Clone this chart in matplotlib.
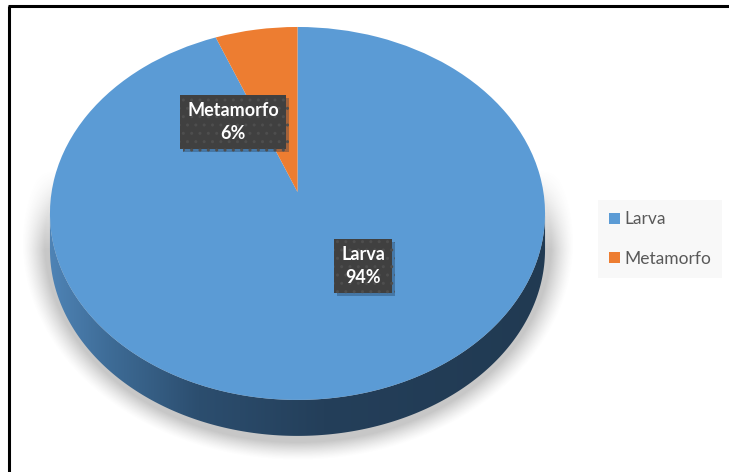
import numpy as np
import matplotlib
matplotlib.use("Agg")
import matplotlib.pyplot as plt
from matplotlib.transforms import Transform
from matplotlib.patches import Polygon
from matplotlib.colors import LinearSegmentedColormap
import matplotlib.patheffects as pe

# Data
categories = ["Larva", "Metamorfo"]
values = [94, 6]
colors = ["#5B9BD5", "#ED7D31"]


class TiltedDisc(Transform):
    """Maps the unit pie disc onto a tilted disc seen in perspective (pixel space)."""
    input_dims = 2
    output_dims = 2
    is_separable = False
    has_inverse = False

    def __init__(self, cx, cy, a, b, k):
        super().__init__()
        self.cx, self.cy, self.a, self.b, self.k = cx, cy, a, b, k

    def transform_non_affine(self, values):
        values = np.asarray(values, dtype=float)
        u, v = values[:, 0], values[:, 1]
        d = 1.0 + self.k * v
        return np.column_stack([self.cx + self.a * u / d, self.cy - self.b * v / d])


W, H = 729, 472
fig = plt.figure(figsize=(W / 100, H / 100), dpi=100)
fig.patch.set_facecolor("white")
ax = fig.add_axes([0, 0, 1, 1])

disc = TiltedDisc(cx=297.5, cy=192.0, a=245.9, b=184.0, k=0.115)
depth = 36.0

# Soft drop shadow behind the cylinder
yy, xx = np.mgrid[0:H, 0:W] + 0.5
r = np.sqrt(((xx - 298) / 268.0) ** 2 + ((yy - 242) / 212.0) ** 2)
fade = np.clip((1.03 - r) / 0.085, 0, 1) ** 1.3
vert = np.clip((yy - 170) / 80.0, 0, 1)
alpha = 0.38 * fade * vert
shadow = np.zeros((H, W, 4))
shadow[..., :3] = 0.42
shadow[..., 3] = alpha
ax.imshow(shadow, extent=[0, W, H, 0], zorder=1, interpolation="bilinear")

# Front side of the cylinder
k = disc.k
th = np.linspace(np.pi + np.arcsin(k), 2 * np.pi - np.arcsin(k), 300)
rim = disc.transform(np.column_stack([np.cos(th), np.sin(th)]))
band = np.vstack([rim, rim[::-1] + [0, depth]])
side = Polygon(band, closed=True, facecolor="none", edgecolor="none")
ax.add_patch(side)
side_cmap = LinearSegmentedColormap.from_list(
    "side", [(0.0, "#4F84B6"), (0.12, "#3E6C97"), (0.30, "#2C4E6F"),
             (0.55, "#243F5A"), (1.0, "#213A52")])
grad = np.linspace(0, 1, 256)[None, :]
im = ax.imshow(grad, cmap=side_cmap, extent=[48, 548, 460, 190],
               aspect="auto", zorder=2, interpolation="bilinear")
im.set_clip_path(side)

# Top face of the pie
wedges, _ = ax.pie(values, colors=colors, labels=categories, labeldistance=None,
                   startangle=90, counterclock=False,
                   wedgeprops=dict(linewidth=0))
for w in wedges:
    w.set_transform(disc + ax.transData)
    w.set_zorder(3)

ax.set_aspect("auto")
ax.set_xlim(0, W)
ax.set_ylim(H, 0)
ax.axis("off")

# Data labels
label_pos = {"Larva": (363, 266), "Metamorfo": (233, 122)}
total = sum(values)
for cat, val in zip(categories, values):
    x, y = label_pos[cat]
    t = ax.text(x, y, f"{cat}\n{val / total * 100:.0f}%", ha="center", va="center",
                multialignment="center", color="white", fontsize=13,
                fontweight="bold", family="Lato", linespacing=1.4, zorder=6,
                bbox=dict(boxstyle="square,pad=0.4", facecolor="#404040",
                          edgecolor="#4E4E4E", linewidth=0, hatch=".."))
    t.get_bbox_patch().set_path_effects(
        [pe.SimplePatchShadow(offset=(2, -2), shadow_rgbFace="#1E3550", alpha=0.35),
         pe.Normal()])

# Legend
leg = ax.legend(handles=wedges, labels=categories, loc="upper left",
                bbox_to_anchor=(598 / W, 1 - 200 / H), bbox_transform=fig.transFigure,
                frameon=True, fancybox=False, borderaxespad=0, borderpad=0.65,
                handlelength=0.6, handleheight=0.6, handletextpad=0.25,
                labelspacing=1.35, prop=dict(family="Lato", size=12.5))
leg.get_frame().set_facecolor("#F7F7F7")
leg.get_frame().set_edgecolor("none")
for txt in leg.get_texts():
    txt.set_color("#595959")

# Outer frame (left and top edges)
ax.plot([9.5, 9.5], [H, 5.75], color="black", lw=2.2, solid_capstyle="butt", zorder=10)
ax.plot([8, W], [5.75, 5.75], color="black", lw=2.2, solid_capstyle="butt", zorder=10)

fig.savefig("out.png", dpi=100, facecolor="white")
